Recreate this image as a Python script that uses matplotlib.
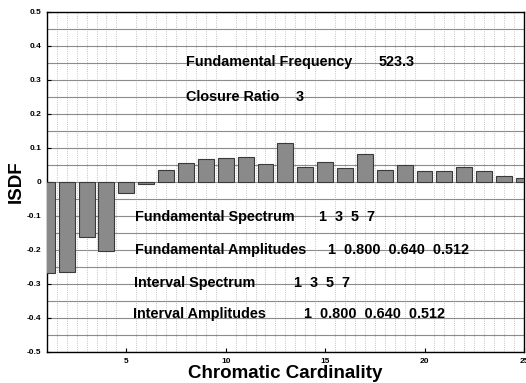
import numpy as np
import matplotlib.pyplot as plt

plt.rcParams['font.family'] = ['Liberation Sans', 'DejaVu Sans']

cardinality = np.arange(1, 26)
isdf = [-0.267, -0.264, -0.163, -0.204, -0.033, -0.005, 0.035, 0.055, 0.066,
        0.069, 0.074, 0.054, 0.115, 0.045, 0.060, 0.040, 0.083, 0.035, 0.050,
        0.032, 0.032, 0.045, 0.032, 0.018, 0.013]

notes = [
    (8.0, 0.353, 'Fundamental Frequency'), (17.7, 0.353, '523.3'),
    (8.0, 0.251, 'Closure Ratio'), (13.5, 0.251, '3'),
    (5.45, -0.102, 'Fundamental Spectrum'), (14.7, -0.102, '1  3  5  7'),
    (5.45, -0.200, 'Fundamental Amplitudes'), (15.15, -0.200, '1  0.800  0.640  0.512'),
    (5.4, -0.297, 'Interval Spectrum'), (13.45, -0.297, '1  3  5  7'),
    (5.35, -0.388, 'Interval Amplitudes'), (13.95, -0.388, '1  0.800  0.640  0.512'),
]

fig = plt.figure(figsize=(5.26, 3.83), dpi=100)
ax = fig.add_axes([0.089, 0.081, 0.907, 0.888])

ax.bar(cardinality, isdf, width=0.8, color='#8a8a8a', edgecolor='#3a3a3a', linewidth=0.8, zorder=3)

ax.set_xlim(1, 25)
ax.set_ylim(-0.5, 0.5)
ax.set_xticks([5, 10, 15, 20, 25])
ax.set_yticks(np.arange(-0.5, 0.51, 0.1))
ax.set_yticklabels(['-0.5', '-0.4', '-0.3', '-0.2', '-0.1', '0', '0.1', '0.2', '0.3', '0.4', '0.5'])
ax.set_yticks(np.arange(-0.5, 0.51, 0.05), minor=True)
ax.set_xticks(np.arange(1, 25.01, 0.5), minor=True)
ax.tick_params(axis='both', labelsize=6, direction='in', length=3, pad=4)
ax.tick_params(which='minor', length=0)
for lab in ax.get_xticklabels() + ax.get_yticklabels():
    lab.set_fontweight('bold')

ax.grid(True, which='minor', axis='y', color='#8c8c8c', linewidth=0.8, zorder=0)
ax.grid(True, which='major', axis='y', color='#8c8c8c', linewidth=0.8, zorder=0)
ax.grid(True, which='minor', axis='x', color='#b0b0b0', linestyle=':', linewidth=0.6, zorder=0)
for s in ax.spines.values():
    s.set_linewidth(1.0)

for x, y, t in notes:
    ax.text(x, y, t, fontsize=10.4, fontweight='bold', va='center', ha='left', zorder=4)

ax.set_xlabel('Chromatic Cardinality', fontsize=13.5, fontweight='bold', labelpad=0)
ax.set_ylabel('ISDF', fontsize=13.5, fontweight='bold', labelpad=1)

fig.savefig('out.png', dpi=100)
